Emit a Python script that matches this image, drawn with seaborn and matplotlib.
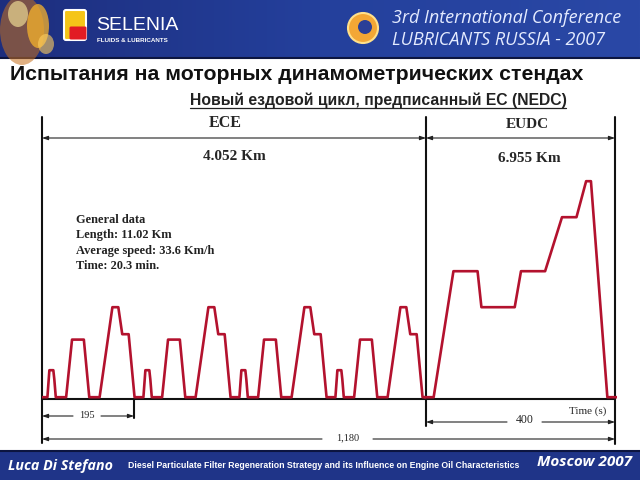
import numpy as np
import pandas as pd
import matplotlib
matplotlib.use("Agg")
import matplotlib.pyplot as plt
import seaborn as sns
from matplotlib.patches import Ellipse, FancyBboxPatch, Circle

# =========================
# Data (NEDC speed profile)
# =========================
ece_time  = [0, 11, 15, 23, 25, 28, 49, 61, 85, 96, 117, 143, 155, 163, 176, 188, 195]
ece_speed = [0, 0, 15, 15, 10, 0, 0, 32, 32, 0, 0, 50, 50, 35, 35, 0, 0]
ece_repeats = [0, 195, 390, 585]          # four urban sub-cycles

eudc_time  = [0, 20, 61, 111, 119, 188, 201, 251, 286, 316, 336, 346, 380, 400]
eudc_speed = [0, 0, 70, 70, 50, 50, 70, 70, 100, 100, 120, 120, 0, 0]

seg_names = ["ECE", "EUDC"]
seg_dist  = ["4.052 Km", "6.955 Km"]
span_labels = ["195", "400", "1,180"]
info_lines = ["General data", "Length: 11.02 Km",
              "Average speed: 33.6 Km/h", "Time: 20.3 min."]

ece_df = pd.DataFrame({
    "t": np.concatenate([np.array(ece_time[:-1] if k < ece_repeats[-1] else ece_time) + k
                         for k in ece_repeats]),
    "v": np.concatenate([np.array(ece_speed[:-1] if k < ece_repeats[-1] else ece_speed)
                         for k in ece_repeats]),
})
eudc_df = pd.DataFrame({"t": eudc_time, "v": eudc_speed})

# =========================
# Style
# =========================
sns.set_style("white")
plt.rcParams["font.family"] = ["Liberation Sans", "DejaVu Sans"]

RED = "#b3122e"
W, H = 640, 480

fig = plt.figure(figsize=(6.4, 4.8), dpi=100)
fig.patch.set_facecolor("white")

# background axes in pixel coordinates for slide decoration
bg = fig.add_axes([0, 0, 1, 1], zorder=0)
bg.set_xlim(0, W)
bg.set_ylim(H, 0)
bg.axis("off")

# ---- header banner ----
grad = np.linspace(0, 1, 256).reshape(1, -1)
bg.imshow(grad, extent=[0, W, 57, 0], cmap=plt.matplotlib.colors.LinearSegmentedColormap.from_list(
    "bn", ["#1d2e7e", "#24409c", "#2a48a6"]), aspect="auto", zorder=1)
bg.plot([0, W], [57.5, 57.5], color="#0c1540", lw=1.5, zorder=2)
# fiery glow on the left
for cx, cy, w, h, c, a in [(22, 30, 44, 70, "#c8701c", 0.55), (38, 26, 22, 44, "#f6b32c", 0.75),
                           (18, 14, 20, 26, "#fff0a0", 0.6), (46, 44, 16, 20, "#ffd060", 0.6)]:
    bg.add_patch(Ellipse((cx, cy), w, h, color=c, alpha=a, zorder=2, lw=0))
# Selenia logo
bg.add_patch(FancyBboxPatch((66, 12), 18, 26, boxstyle="round,pad=2", fc="#f5c518", ec="white",
                            lw=1.5, zorder=3))
bg.add_patch(FancyBboxPatch((71, 28), 14, 10, boxstyle="round,pad=1.5", fc="#e21b23", ec="none",
                            zorder=4))
bg.text(96, 26, "SELENIA", color="white", fontsize=14, va="center", ha="left", zorder=4,
        family=["Liberation Sans Narrow", "Liberation Sans"])
bg.text(97, 41, "FLUIDS & LUBRICANTS", color="white", fontsize=4.5, fontweight="bold",
        va="center", ha="left", zorder=4)
# conference logo and text
bg.add_patch(Circle((363, 28), 15, fc="#f3a735", ec="#ffe08a", lw=1.5, zorder=3))
bg.add_patch(Circle((365, 27), 7, fc="#2a3f97", ec="none", zorder=4))
bg.text(392, 18, "3rd International Conference", color="#e4ebff", fontsize=13,
        style="italic", family="Open Sans", va="center", ha="left", zorder=4)
bg.text(392, 40, "LUBRICANTS RUSSIA - 2007", color="#e4ebff", fontsize=13,
        style="italic", family="Open Sans", va="center", ha="left", zorder=4)

# ---- titles ----
bg.text(10, 74, "Испытания на моторных динамометрических стендах", fontsize=15.3,
        fontweight="bold", color="#111111", va="center", ha="left")
bg.text(190, 100, "Новый ездовой цикл, предписанный ЕС (NEDC)", fontsize=11.3,
        fontweight="bold", color="#222222", va="center", ha="left")
bg.plot([190, 566], [107.5, 107.5], color="#222222", lw=0.9)

# ---- footer ----
bg.add_patch(plt.Rectangle((0, 451), W, 29, fc="#1f3488", ec="none", zorder=1))
bg.plot([0, W], [451, 451], color="#0c1540", lw=1.5, zorder=2)
bg.text(8, 466, "Luca Di Stefano", color="white", fontsize=10.3, fontweight="bold",
        style="italic", family="Open Sans", va="center", ha="left", zorder=3)
bg.text(128, 466, "Diesel Particulate Filter Regeneration Strategy and its Influence on Engine Oil Characteristics",
        color="white", fontsize=6.3, fontweight="bold", va="center", ha="left", zorder=3)
bg.text(632, 462, "Moscow 2007", color="white", fontsize=11, fontweight="bold",
        style="italic", family="Open Sans", va="center", ha="right", zorder=3)

# ---- chart frame ----
x0, x_div, x1, x195 = 42, 426, 615, 134
y_top, y_base = 117, 399
lk = dict(color="#111111", lw=1.5, zorder=5)
bg.plot([x0, x0], [y_top, 443], **lk)
bg.plot([x_div, x_div], [y_top, 426], **lk)
bg.plot([x1, x1], [y_top, 444], **lk)
bg.plot([x195, x195], [y_base, 418], **lk)
bg.plot([x0, x1], [y_base, y_base], **lk)

head = "-|>,head_length=0.35,head_width=0.12"
arrow = dict(arrowstyle="<|-|>,head_length=0.35,head_width=0.12", color="#222222", lw=0.8,
             shrinkA=0, shrinkB=0)
half = dict(arrowstyle=head, color="#222222", lw=0.8, shrinkA=0, shrinkB=0)

def split_arrow(xa, xb, gap_a, gap_b, y):
    bg.annotate("", xy=(xa, y), xytext=(gap_a, y), arrowprops=half, zorder=5)
    bg.annotate("", xy=(xb, y), xytext=(gap_b, y), arrowprops=half, zorder=5)

bg.annotate("", xy=(x0, 138), xytext=(x_div, 138), arrowprops=arrow, zorder=5)
bg.annotate("", xy=(x_div, 138), xytext=(x1, 138), arrowprops=arrow, zorder=5)
split_arrow(x0, x195, 73, 101, 416)
split_arrow(x_div, x1, 507, 542, 422)
split_arrow(x0, x1, 322, 373, 439)

serif = ["Liberation Serif", "DejaVu Serif"]
bg.text(225, 123, seg_names[0], family=serif, fontsize=11.5, fontweight="bold", ha="center", va="center")
bg.text(527, 124, seg_names[1], family=serif, fontsize=11, fontweight="bold", ha="center", va="center")
bg.text(234, 157, seg_dist[0], family=serif, fontsize=11, fontweight="bold", ha="center", va="center")
bg.text(529, 158, seg_dist[1], family=serif, fontsize=11, fontweight="bold", ha="center", va="center")
for i, line in enumerate(info_lines):
    bg.text(76, 220 + 15.3 * i, line, family=serif, fontsize=8.9, fontweight="bold",
            color="#222222", ha="left", va="center")
bg.text(87, 416, span_labels[0], family=serif, fontsize=7.5, ha="center", va="center", zorder=6)
bg.text(525, 420, span_labels[1], family=serif, fontsize=8.5, ha="center", va="center", zorder=6)
bg.text(348, 438, span_labels[2], family=serif, fontsize=7.5, ha="center", va="center", zorder=6)
bg.text(588, 411, "Time (s)", family=serif, fontsize=8, ha="center", va="center", zorder=6)

# ---- speed profile axes ----
px_per_kmh = 1.8
def data_axes(left_px, right_px):
    ax = fig.add_axes([left_px / W, (H - y_base) / H, (right_px - left_px) / W,
                       (y_base - y_top) / H], zorder=3)
    ax.patch.set_alpha(0)
    ax.axis("off")
    ax.set_ylim(-1, (y_base - y_top) / px_per_kmh - 1)
    return ax

ax_ece = data_axes(x0, x_div)
sns.lineplot(data=ece_df, x="t", y="v", ax=ax_ece, color=RED, linewidth=1.9,
             estimator=None, sort=False)
ax_ece.set_xlim(0, 780)
ax_ece.axis("off")

ax_eudc = data_axes(424, 617)
sns.lineplot(data=eudc_df, x="t", y="v", ax=ax_eudc, color=RED, linewidth=1.9,
             estimator=None, sort=False)
ax_eudc.set_xlim(0, 400)
ax_eudc.axis("off")

fig.savefig("out.png", dpi=100)
